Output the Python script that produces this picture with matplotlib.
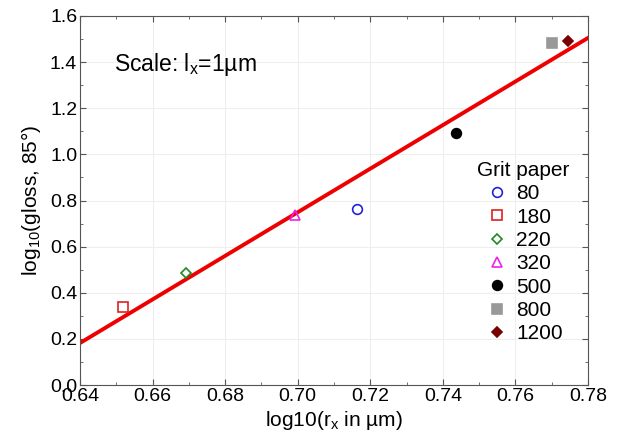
import matplotlib
matplotlib.use("Agg")
import matplotlib.pyplot as plt
import numpy as np
from matplotlib.ticker import MultipleLocator

plt.rcParams['font.family'] = ['Liberation Sans', 'DejaVu Sans']
plt.rcParams['mathtext.fontset'] = 'custom'
plt.rcParams['mathtext.rm'] = 'Liberation Sans'
plt.rcParams['mathtext.it'] = 'Liberation Sans'

grits = ['80', '180', '220', '320', '500', '800', '1200']
x_vals = [0.7163, 0.6518, 0.6692, 0.6993, 0.7436, 0.7700, 0.7745]
y_vals = [0.763, 0.338, 0.486, 0.737, 1.093, 1.483, 1.492]
markers = ['o', 's', 'D', '^', 'o', 's', 'D']
colors = ['#2222dd', '#dd2222', '#228822', '#ee22ee', '#000000', '#999999', '#7a0000']
filled = [False, False, False, False, True, True, True]
msizes = [7, 7.5, 5.5, 6.5, 7, 7.5, 5.5]

fit_x = [0.64, 0.78]
fit_y = [0.182, 1.505]

fig = plt.figure(figsize=(6.21, 4.46), dpi=100)
ax = fig.add_axes([80/621, 1-385/446, 508/621, 369/446])

ax.plot(fit_x, fit_y, color='#ee0000', lw=2.8, zorder=2)
for g, x, y, m, c, f, s in zip(grits, x_vals, y_vals, markers, colors, filled, msizes):
    ax.plot([x], [y], linestyle='none', marker=m, markersize=s,
            markerfacecolor=c if f else 'none', markeredgecolor=c,
            markeredgewidth=1.2, label=g, zorder=3)

ax.set_xlim(0.64, 0.78)
ax.set_ylim(0.0, 1.6)
ax.xaxis.set_major_locator(MultipleLocator(0.02))
ax.xaxis.set_minor_locator(MultipleLocator(0.01))
ax.yaxis.set_major_locator(MultipleLocator(0.2))
ax.yaxis.set_minor_locator(MultipleLocator(0.1))
ax.xaxis.set_major_formatter(matplotlib.ticker.FormatStrFormatter('%.2f'))
ax.yaxis.set_major_formatter(matplotlib.ticker.FormatStrFormatter('%.1f'))
ax.tick_params(which='both', direction='in', top=True, right=True, labelsize=14,
               color='#555555')
ax.tick_params(which='major', length=4, pad=2)
ax.tick_params(which='minor', length=2.5)
ax.grid(True, which='major', color='#eeeeee', lw=0.8)
ax.set_axisbelow(True)
for sp in ax.spines.values():
    sp.set_color('#555555')

ax.set_xlabel(r"log10(r$_\mathregular{x}$ in µm)", fontsize=15, labelpad=3)
ax.set_ylabel(r"log$_\mathregular{10}$(gloss, 85°)", fontsize=15, labelpad=5)

ax.text(0.669, 1.39, r"Scale: l$_\mathregular{x}$=1µm", fontsize=16.5, ha='center', va='center')

leg = ax.legend(title='Grit paper', loc='upper left', bbox_to_anchor=(0.766, 0.63),
                frameon=False, fontsize=15, title_fontsize=15, handletextpad=0.3,
                labelspacing=0.21, borderaxespad=0.0, handlelength=1.2)

fig.savefig('out.png', dpi=100)
